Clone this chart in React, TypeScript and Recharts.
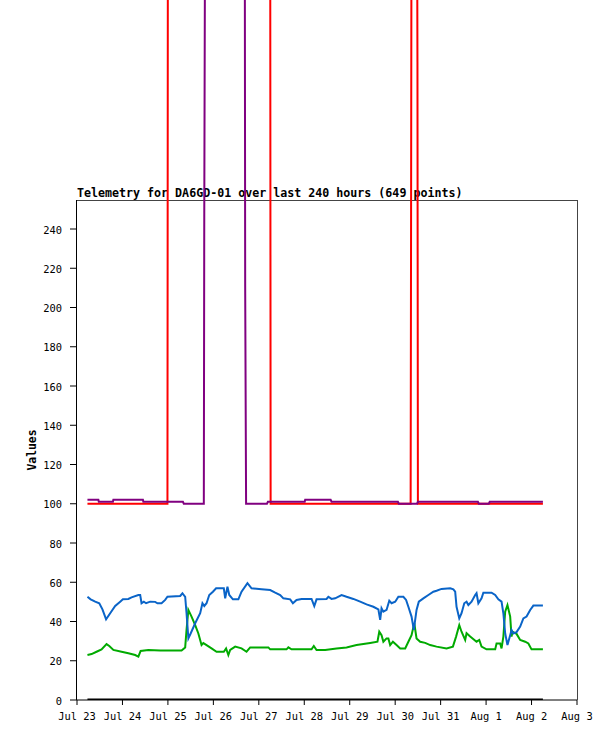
import React from "react";
import { LineChart, Line, XAxis, YAxis } from "recharts";

// time is in days since Jul 23 00:00
const dayLabels = ["Jul 23", "Jul 24", "Jul 25", "Jul 26", "Jul 27", "Jul 28", "Jul 29", "Jul 30", "Jul 31", "Aug 1", "Aug 2", "Aug 3"];
const dayTicks = dayLabels.map((_, i) => i);
const valueTicks = [0, 20, 40, 60, 80, 100, 120, 140, 160, 180, 200, 220, 240];

const zeroSeries = [
  [0.23, 0], [10.25, 0],
];

const redSeries = [
  [0.23, 100], [1.99, 100], [2.0, 420], [4.25, 420], [4.26, 100], [7.34, 100],
  [7.35, 250], [7.36, 420], [7.48, 420], [7.49, 325], [7.5, 100], [10.25, 100],
];

const purpleSeries = [
  [0.23, 102], [0.47, 102], [0.48, 101], [0.79, 101], [0.8, 102], [1.45, 102],
  [1.46, 101], [2.33, 101], [2.35, 100], [2.79, 100], [2.8, 248], [2.82, 420],
  [3.69, 420], [3.7, 211], [3.72, 100], [4.18, 100], [4.2, 101], [5.01, 101],
  [5.02, 102], [5.58, 102], [5.6, 101], [7.06, 101], [7.08, 100], [7.48, 100],
  [7.5, 101], [8.82, 101], [8.84, 100], [9.06, 100], [9.08, 101], [10.25, 101],
];

const blueSeries = [
  [0.23, 52.6], [0.3, 51.3], [0.4, 50.1], [0.49, 49.3], [0.56, 46.2], [0.64, 41.1],
  [0.73, 44.2], [0.84, 47.9], [0.95, 50.1], [1.01, 51.3], [1.13, 51.5], [1.2, 52.3],
  [1.35, 53.5], [1.39, 53.5], [1.42, 49.3], [1.47, 50.1], [1.52, 49.3], [1.61, 50.1],
  [1.72, 50], [1.77, 49.3], [1.86, 49.3], [1.94, 51], [1.99, 52.6], [2.27, 53],
  [2.32, 54.4], [2.38, 52.6], [2.41, 44.2], [2.45, 31.4], [2.5, 33.9], [2.6, 39.1],
  [2.71, 44.2], [2.76, 49.3], [2.8, 47.9], [2.85, 49.3], [2.91, 53.5], [2.99, 55.2],
  [3.06, 56.9], [3.23, 56.9], [3.26, 51.8], [3.31, 57.7], [3.35, 53.5], [3.43, 51.3],
  [3.55, 51.3], [3.62, 55.2], [3.75, 59.5], [3.84, 56.9], [4.06, 56.4], [4.25, 56],
  [4.36, 54.7], [4.47, 53.5], [4.54, 51.8], [4.69, 51.3], [4.75, 49.3], [4.83, 51],
  [4.94, 51.5], [5.16, 51.5], [5.22, 47.9], [5.27, 51.3], [5.49, 51.5], [5.53, 52.6],
  [5.6, 51.5], [5.68, 51.8], [5.82, 53.5], [5.93, 52.6], [6.08, 51.5], [6.23, 50.1],
  [6.37, 48.7], [6.52, 47.5], [6.63, 46.2], [6.67, 40.8], [6.7, 46.7], [6.74, 45],
  [6.81, 45.9], [6.87, 50.6], [6.92, 49.3], [7.0, 50.1], [7.07, 52.6], [7.18, 52.6],
  [7.24, 51], [7.29, 47.5], [7.36, 42.5], [7.41, 35.7], [7.47, 45.9], [7.52, 50.1],
  [7.62, 51.8], [7.73, 53.5], [7.84, 55.2], [7.91, 55.7], [8.02, 56.6], [8.21, 56.9],
  [8.28, 56.4], [8.32, 55.2], [8.35, 47.5], [8.41, 41.6], [8.46, 44.2], [8.52, 49.3],
  [8.57, 50.1], [8.61, 48.4], [8.68, 50.1], [8.76, 53.5], [8.79, 54.4], [8.83, 49.3],
  [8.9, 51.8], [8.94, 54.7], [9.12, 54.7], [9.2, 53.5], [9.27, 51.3], [9.34, 50.1],
  [9.38, 44.2], [9.42, 33.9], [9.47, 28], [9.53, 33], [9.56, 35.7], [9.6, 33.9],
  [9.67, 34.6], [9.75, 37.4], [9.82, 41.6], [9.89, 42.5], [9.97, 45.9], [10.04, 48.1],
  [10.25, 48.1],
];

const greenSeries = [
  [0.23, 22.9], [0.32, 23.4], [0.43, 24.6], [0.54, 25.8], [0.65, 28.5], [0.71, 27.5],
  [0.8, 25.5], [0.98, 24.6], [1.13, 23.8], [1.28, 22.9], [1.35, 22.1], [1.4, 25],
  [1.57, 25.5], [1.83, 25.2], [2.3, 25.2], [2.38, 26.8], [2.41, 35.7], [2.45, 45.9],
  [2.52, 42.5], [2.6, 38.2], [2.67, 33.9], [2.74, 28], [2.78, 29], [2.85, 28],
  [2.96, 26.3], [3.07, 24.6], [3.23, 24.6], [3.28, 26.3], [3.33, 22.9], [3.37, 25.5],
  [3.48, 27.2], [3.62, 26.3], [3.73, 24.6], [3.81, 26.8], [4.21, 26.8], [4.25, 25.8],
  [4.61, 25.8], [4.65, 26.8], [4.72, 25.8], [5.16, 25.8], [5.21, 27.5], [5.27, 25.5],
  [5.46, 25.5], [5.71, 26.3], [5.93, 26.8], [6.15, 28], [6.45, 29.1], [6.61, 29.7],
  [6.65, 34.8], [6.7, 33], [6.74, 29.7], [6.81, 31.4], [6.85, 31.4], [6.89, 28],
  [6.95, 29.7], [7.03, 28], [7.11, 26.3], [7.22, 26.3], [7.29, 29.7], [7.36, 33],
  [7.42, 39.1], [7.47, 31.4], [7.55, 29.7], [7.66, 29.1], [7.77, 28], [7.91, 27.2],
  [8.13, 26.3], [8.27, 27.2], [8.34, 32.3], [8.41, 38.2], [8.46, 34.8], [8.54, 30.6],
  [8.57, 34], [8.65, 32.3], [8.79, 29.7], [8.85, 30.6], [8.9, 27.2], [9.01, 25.8],
  [9.2, 25.8], [9.23, 28.8], [9.31, 28.8], [9.34, 26.3], [9.38, 32.3], [9.42, 45],
  [9.47, 48.4], [9.53, 42.5], [9.56, 32.3], [9.58, 34.8], [9.67, 33.7], [9.75, 30.6],
  [9.86, 29.7], [9.93, 28.8], [10.0, 25.8], [10.25, 25.8],
];

const toRows = (s: number[][]) => s.map(([t, v]) => ({ t, v }));

const W = 615;
const H = 741;
const LEFT = 77;
const RIGHT = 577;
const TOP = 200;
const BOTTOM = 700;
const FONT = "'DejaVu Sans Mono', 'Liberation Mono', monospace";

export default function App() {
  return (
    <div style={{ position: "absolute", left: 0, top: 0, width: W, height: H, background: "#fff" }}>
      <svg width={W} height={H} style={{ position: "absolute", left: 0, top: 0 }}>
        <text x={LEFT} y={197} fontFamily={FONT} fontSize={11.65} fontWeight="bold" fill="#000">
          Telemetry for DA6GD-01 over last 240 hours (649 points)
        </text>
        <text
          x={36}
          y={450}
          transform="rotate(-90 36 450)"
          textAnchor="middle"
          fontFamily={FONT}
          fontSize={11.4}
          fontWeight="bold"
          fill="#000"
        >
          Values
        </text>
        <line x1={LEFT} y1={TOP + 0.5} x2={RIGHT} y2={TOP + 0.5} stroke="#444" />
        <line x1={RIGHT + 0.5} y1={TOP} x2={RIGHT + 0.5} y2={BOTTOM} stroke="#444" />
        <line x1={LEFT - 0.5} y1={TOP} x2={LEFT - 0.5} y2={BOTTOM} stroke="#000" />
      </svg>
      <div style={{ position: "absolute", left: 0, top: 0 }}>
        <LineChart width={W} height={H} margin={{ top: 0, right: W - RIGHT, bottom: 11, left: 0 }}>
          <XAxis
            type="number"
            dataKey="t"
            domain={[0, 11]}
            ticks={dayTicks}
            tickFormatter={(v: number) => dayLabels[v] ?? ""}
            interval={0}
            height={30}
            tickSize={5}
            tickMargin={8}
            axisLine={{ stroke: "#000" }}
            tickLine={{ stroke: "#000" }}
            tick={{ fill: "#000", fontFamily: FONT, fontSize: 10.4 }}
            allowDataOverflow
          />
          <YAxis
            type="number"
            domain={[0, BOTTOM / 1.9625]}
            ticks={valueTicks}
            interval={0}
            width={LEFT}
            tickSize={7}
            tickMargin={8}
            axisLine={false}
            tickLine={{ stroke: "#000" }}
            tick={{ fill: "#000", fontFamily: FONT, fontSize: 10.4, dy: 1 }}
            allowDataOverflow
          />
          <Line data={toRows(redSeries)} dataKey="v" stroke="#ff0000" strokeWidth={2} dot={false} isAnimationActive={false} />
          <Line data={toRows(purpleSeries)} dataKey="v" stroke="#800080" strokeWidth={2} dot={false} isAnimationActive={false} />
          <Line data={toRows(greenSeries)} dataKey="v" stroke="#00aa00" strokeWidth={2} dot={false} isAnimationActive={false} />
          <Line data={toRows(blueSeries)} dataKey="v" stroke="#0a64c8" strokeWidth={2} dot={false} isAnimationActive={false} />
          <Line data={toRows(zeroSeries)} dataKey="v" stroke="#000" strokeWidth={3} dot={false} isAnimationActive={false} />
        </LineChart>
      </div>
    </div>
  );
}
